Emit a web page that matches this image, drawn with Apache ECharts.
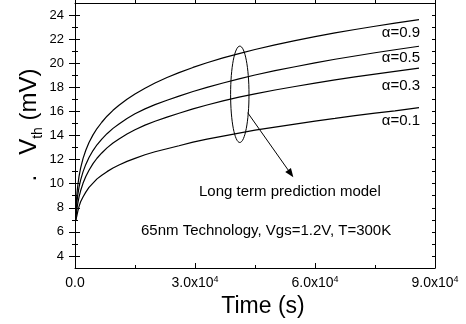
<!DOCTYPE html>
<html>
<head>
<meta charset="utf-8">
<script src="https://cdn.jsdelivr.net/npm/echarts@6/dist/echarts.min.js"></script>
<style>
html,body{margin:0;padding:0;background:#fff;}
#c{width:466px;height:324px;}
</style>
</head>
<body>
<div id="c"></div>
<script>
// ---- data ----
const timeS = [200, 300, 500, 700, 1000, 1400, 2000, 2700, 3500, 4500, 5500, 6700, 8000, 9500, 11000, 13000, 15000, 17500, 20000, 23000, 26000, 29500, 33000, 37000, 41000, 45000, 50000, 55000, 60000, 65000, 70000, 75000, 80000, 86000];
const vthA09 = [7.66, 8.33, 9.24, 9.87, 10.59, 11.29, 12.08, 12.78, 13.42, 14.05, 14.58, 15.10, 15.60, 16.09, 16.51, 17.01, 17.45, 17.93, 18.36, 18.81, 19.22, 19.65, 20.04, 20.44, 20.80, 21.14, 21.53, 21.88, 22.21, 22.52, 22.80, 23.07, 23.33, 23.62];
const vthA05 = [7.26, 7.83, 8.54, 9.07, 9.69, 10.29, 10.98, 11.60, 12.17, 12.75, 13.23, 13.70, 14.15, 14.59, 14.96, 15.41, 15.80, 16.21, 16.56, 16.93, 17.27, 17.65, 17.99, 18.36, 18.70, 19.02, 19.38, 19.71, 20.03, 20.33, 20.60, 20.87, 21.12, 21.41];
const vthA03 = [6.96, 7.38, 7.94, 8.37, 8.89, 9.41, 10.03, 10.60, 11.12, 11.66, 12.11, 12.55, 12.97, 13.37, 13.71, 14.12, 14.48, 14.86, 15.18, 15.53, 15.85, 16.21, 16.53, 16.87, 17.18, 17.46, 17.78, 18.07, 18.35, 18.62, 18.86, 19.10, 19.32, 19.59];
const vthA01 = [6.90, 7.10, 7.40, 7.70, 8.10, 8.50, 8.90, 9.30, 9.70, 10.05, 10.40, 10.70, 11.00, 11.30, 11.55, 11.85, 12.10, 12.40, 12.65, 12.90, 13.15, 13.45, 13.70, 13.95, 14.20, 14.45, 14.70, 14.95, 15.20, 15.42, 15.65, 15.85, 16.05, 16.32];
const seriesNames = ['α=0.9', 'α=0.5', 'α=0.3', 'α=0.1'];
const xTickValues = [0, 30000, 60000, 90000];
const xTickMantissa = ['0.0', '3.0', '6.0', '9.0'];
const xTickExponent = ['', '4', '4', '4'];
const yTickValues = [4, 6, 8, 10, 12, 14, 16, 18, 20, 22, 24];
const yMinorValues = [5, 7, 9, 11, 13, 15, 17, 19, 21, 23];
const yAllValues = [4,5,6,7,8,9,10,11,12,13,14,15,16,17,18,19,20,21,22,23,24,25];

const FONT = 'Liberation Sans, Arial, sans-serif';
const BLACK = '#000';

function zip(xs, ys){ return xs.map((x,i)=>[x, ys[i]]); }

const chart = echarts.init(document.getElementById('c'), null, {renderer:'canvas'});

const hiddenLabel = {show:false};
const noSplit = {show:false};

const option = {
  animation:false,
  backgroundColor:'#fff',
  grid:{left:75, top:3, right:31, bottom:56, containLabel:false},
  xAxis:[
    {
      type:'value', min:0, max:90000, interval:30000,
      axisLine:{show:true, onZero:false, lineStyle:{color:BLACK, width:1}},
      axisTick:{show:true, inside:true, length:5, lineStyle:{color:BLACK}},
      minorTick:{show:true, splitNumber:2, length:3, lineStyle:{color:BLACK}},
      splitLine:noSplit, minorSplitLine:{show:false},
      axisLabel:{
        margin:7, color:BLACK,
        formatter:function(v){
          const i = xTickValues.indexOf(v);
          if(i<0) return '';
          return xTickExponent[i] ? '{m|'+xTickMantissa[i]+'x10}{e|'+xTickExponent[i]+'}' : '{m|'+xTickMantissa[i]+'}';
        },
        rich:{
          m:{fontSize:14, fontFamily:FONT, color:BLACK, lineHeight:16},
          e:{fontSize:9, fontFamily:FONT, color:BLACK, lineHeight:9, verticalAlign:'top'}
        }
      }
    },
    {
      type:'value', position:'top', min:0, max:90000, interval:15000,
      axisLine:{show:true, onZero:false, lineStyle:{color:BLACK, width:1}},
      axisTick:{show:true, inside:false, length:3, lineStyle:{color:BLACK}},
      axisLabel:hiddenLabel, splitLine:noSplit
    }
  ],
  yAxis:[
    {
      type:'value', min:3, max:25, position:'left',
      axisLine:{show:true, onZero:false, lineStyle:{color:BLACK, width:1}},
      axisTick:{show:true, inside:false, length:6, customValues:yTickValues, lineStyle:{color:BLACK}},
      axisLabel:{show:true, margin:11, customValues:yTickValues, fontSize:13, fontFamily:FONT, color:BLACK},
      splitLine:noSplit
    },
    {
      type:'value', min:3, max:25, position:'left',
      axisLine:{show:false},
      axisTick:{show:true, inside:true, length:5, customValues:yTickValues, lineStyle:{color:BLACK}},
      axisLabel:hiddenLabel, splitLine:noSplit
    },
    {
      type:'value', min:3, max:25, position:'left',
      axisLine:{show:false},
      axisTick:{show:true, inside:false, length:3, customValues:yMinorValues, lineStyle:{color:BLACK}},
      axisLabel:hiddenLabel, splitLine:noSplit
    },
    {
      type:'value', min:3, max:25, position:'left',
      axisLine:{show:false},
      axisTick:{show:true, inside:true, length:3, customValues:yMinorValues, lineStyle:{color:BLACK}},
      axisLabel:hiddenLabel, splitLine:noSplit
    },
    {
      type:'value', min:3, max:25, position:'right',
      axisLine:{show:true, onZero:false, lineStyle:{color:BLACK, width:1}},
      axisTick:{show:true, inside:true, length:3, customValues:yAllValues, lineStyle:{color:BLACK}},
      axisLabel:hiddenLabel, splitLine:noSplit
    }
  ],
  series:[vthA09, vthA05, vthA03, vthA01].map((vals, k)=>({
    name:seriesNames[k], type:'line', xAxisIndex:0, yAxisIndex:0,
    data:zip(timeS, vals), showSymbol:false, symbol:'none',
    smooth:false,
    lineStyle:{color:BLACK, width:1.2}
  }))
};
chart.setOption(option);

// ---- annotations ----
const P = (t, v) => chart.convertToPixel({xAxisIndex:0, yAxisIndex:0}, [t, v]);
const ellC = P(41200, 17.42), ellE = P(43500, 13.42);
const arrS = P(43175, 15.89), arrT = P(54575, 10.53);
const dx = arrT[0]-arrS[0], dy = arrT[1]-arrS[1], L = Math.hypot(dx, dy);
const ux = dx/L, uy = dy/L, hl = 9, hw = 3.5;
const base = [arrT[0]-ux*hl, arrT[1]-uy*hl];
const head = [arrT, [base[0]-uy*hw, base[1]+ux*hw], [base[0]+uy*hw, base[1]-ux*hw]];

const labelY = [32.5, 58, 86.3, 121];
const graphic = [
  {type:'ellipse', shape:{cx:ellC[0], cy:ellC[1], rx:Math.abs(ellE[0]-ellC[0]), ry:Math.abs(ellE[1]-ellC[1])},
   style:{fill:'none', stroke:BLACK, lineWidth:1}},
  {type:'line', shape:{x1:arrS[0], y1:arrS[1], x2:base[0], y2:base[1]}, style:{stroke:BLACK, lineWidth:1}},
  {type:'polygon', shape:{points:head}, style:{fill:BLACK}},
  {type:'text', x:199, y:192, style:{text:'Long term prediction model', font:'15px '+FONT, fill:BLACK, textAlign:'left', textVerticalAlign:'middle'}},
  {type:'text', x:141, y:231, style:{text:'65nm Technology, Vgs=1.2V, T=300K', font:'15px '+FONT, fill:BLACK, textAlign:'left', textVerticalAlign:'middle'}},
  {type:'text', x:263, y:307, style:{text:'Time (s)', font:'23px '+FONT, fill:BLACK, textAlign:'center', textVerticalAlign:'middle'}},
  {type:'text', x:30, y:125, rotation:Math.PI/2,
   style:{text:'{a|.   V}{b|th}{a| (mV)}', textAlign:'center', textVerticalAlign:'middle',
     rich:{a:{fontSize:24, fontFamily:FONT, fill:BLACK, color:BLACK, lineHeight:26, verticalAlign:'top'},
           b:{fontSize:14, fontFamily:FONT, fill:BLACK, color:BLACK, lineHeight:14, padding:[14,0,0,0], verticalAlign:'top'}}}}
];
seriesNames.forEach((n, i)=>{
  graphic.push({type:'text', x:420, y:labelY[i], style:{text:n, font:'15px '+FONT, fill:BLACK, textAlign:'right', textVerticalAlign:'middle'}});
});
chart.setOption({graphic:graphic});
</script>
</body>
</html>
